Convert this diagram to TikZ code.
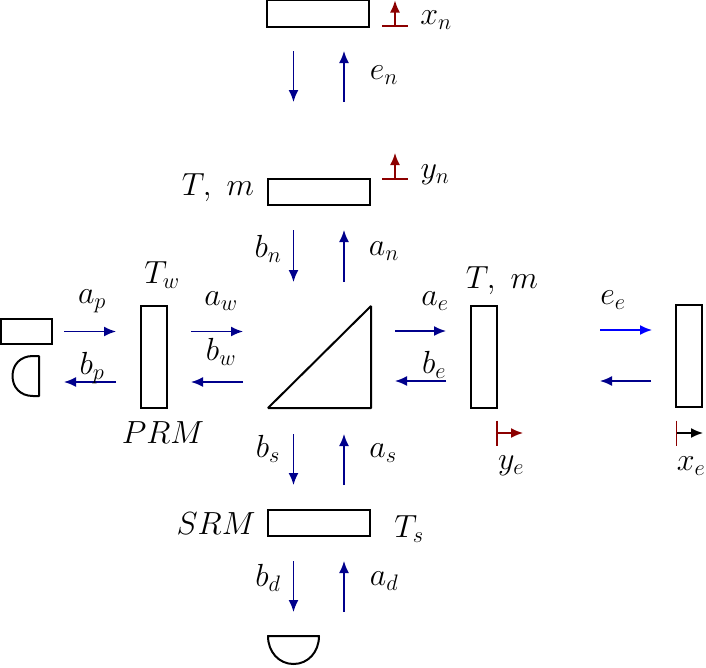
\documentclass[tikz,border=0pt]{standalone}
\usepackage{fix-cm}
\usetikzlibrary{arrows.meta}
\definecolor{beam}{rgb}{0,0,0.55}
\definecolor{pure}{rgb}{0,0,1}
\definecolor{disp}{rgb}{0.55,0,0}
\tikzset{
  x=1pt,y=-1pt,
  optic/.style={draw=black,line width=2pt,line join=miter,inner sep=0pt,outer sep=0pt,minimum width=#1},
  tall/.style={optic=26pt,minimum height=102pt},
  wide/.style={optic=102pt,minimum height=26pt},
  beamline/.style={draw=beam,line width=1.6pt,-{Latex[length=12pt,width=10pt]}},
  bluebeam/.style={beamline,draw=pure},
  disparrow/.style={draw=disp,line width=1.6pt,-{Latex[length=12pt,width=10pt]}},
  blackarrow/.style={draw=black,line width=1.6pt,-{Latex[length=12pt,width=10pt]}},
  dispbar/.style={draw=disp,line width=1.5pt},
  lab/.style={inner sep=0pt,outer sep=0pt,font=\fontsize{32}{38}\selectfont},
}
\begin{document}
\begin{tikzpicture}
\useasboundingbox (0,0) rectangle (706,667);
% optics
\node[optic=102pt,minimum height=27pt] (etmn) at (318,13.5) {};
\node[wide] (itmn) at (319,191.5) {};
\node[tall] (prm) at (153.5,357) {};
\node[optic=51pt,minimum height=25.5pt] (laser) at (26.5,331.5) {};
\node[tall] (itme) at (484,357) {};
\node[tall] (etme) at (689,355.5) {};
\node[wide] (srm) at (319,522.5) {};
\draw[line width=2pt,line join=bevel] (268,408) -- (371,306) -- (371,408) -- cycle;
\draw[line width=2pt,line join=round] (39,356) -- (33,356) .. controls (20,356) and (12.5,365) .. (12.5,376) .. controls (12.5,387) and (20,396) .. (33,396) -- (39,396) -- cycle;
\draw[line width=2pt,line join=round] (268,636) -- (319,636) .. controls (319,652) and (308,664) .. (293.5,664) .. controls (279,664) and (268,652) .. (268,636) -- cycle;
% beam end points
\foreach \n/\x/\ya/\yb in {enD/293.5/51/102,enU/344/102/51,bnD/293.5/230/282,anU/344/282/230,bsD/293.5/434/485,asU/344/485/434,bdD/293.5/561/612,adU/344/612/561}{
  \coordinate (\n s) at (\x,\ya); \coordinate (\n t) at (\x,\yb);
  \draw[beamline] (\n s) -- (\n t);
}
\foreach \n/\y/\xa/\xb in {apR/331.5/64/116,bpL/382/116/64,awR/331.5/191/243,bwL/382/243/191,aeR/331/395/446,beL/381/446/395,eeL/381/651/600}{
  \coordinate (\n s) at (\xa,\y); \coordinate (\n t) at (\xb,\y);
  \draw[beamline] (\n s) -- (\n t);
}
\coordinate (eeRs) at (600,330); \coordinate (eeRt) at (652,330);
\draw[bluebeam] (eeRs) -- (eeRt);
% displacement markers
\coordinate (xnb) at (395,26); \coordinate (xnt) at (395,0.5);
\coordinate (xnl) at (382,26); \coordinate (xnr) at (408,26);
\draw[dispbar] (xnl) -- (xnr); \draw[disparrow] (xnb) -- (xnt);
\coordinate (ynb) at (395,179); \coordinate (ynt) at (395,153);
\coordinate (ynl) at (382,179); \coordinate (ynr) at (408,179);
\draw[dispbar] (ynl) -- (ynr); \draw[disparrow] (ynb) -- (ynt);
\coordinate (yeb) at (497,433); \coordinate (yet) at (523,433);
\coordinate (yeu) at (497,420.5); \coordinate (yed) at (497,445.5);
\draw[dispbar] (yeu) -- (yed); \draw[disparrow] (yeb) -- (yet);
\coordinate (xeb) at (676.5,433); \coordinate (xet) at (703,433);
\coordinate (xeu) at (676.5,420.5); \coordinate (xed) at (676.5,445.5);
\draw[blackarrow] (xeb) -- (xet); \draw[dispbar] (xeu) -- (xed);
% labels
\node[lab] (lxn) at (436,20) {$x_n$};
\node[lab] (len) at (384,75) {$e_n$};
\node[lab] (lyn) at (435,175) {$y_n$};
\node[lab] (ltmn) at (218,188) {$T,\ m$};
\node[lab] (lbn) at (268,249) {$b_n$};
\node[lab] (lan) at (384,251) {$a_n$};
\node[lab] (ltw) at (162,275) {$T_w$};
\node[lab] (lap) at (92,301) {$a_p$};
\node[lab] (lbp) at (92,368) {$b_p$};
\node[lab] (law) at (221,301) {$a_w$};
\node[lab] (lbw) at (221,352) {$b_w$};
\node[lab] (lprm) at (163,433) {$PRM$};
\node[lab] (lae) at (435,301) {$a_e$};
\node[lab] (lbe) at (434,365) {$b_e$};
\node[lab] (ltme) at (502,281) {$T,\ m$};
\node[lab] (lee) at (613,300) {$e_e$};
\node[lab] (lye) at (511,466) {$y_e$};
\node[lab] (lxe) at (691,466) {$x_e$};
\node[lab] (lbs) at (268,449) {$b_s$};
\node[lab] (las) at (383,453) {$a_s$};
\node[lab] (lsrm) at (216,524) {$SRM$};
\node[lab] (lts) at (409,529) {$T_s$};
\node[lab] (lbd) at (268,578) {$b_d$};
\node[lab] (lad) at (384,581) {$a_d$};
\end{tikzpicture}
\end{document}
